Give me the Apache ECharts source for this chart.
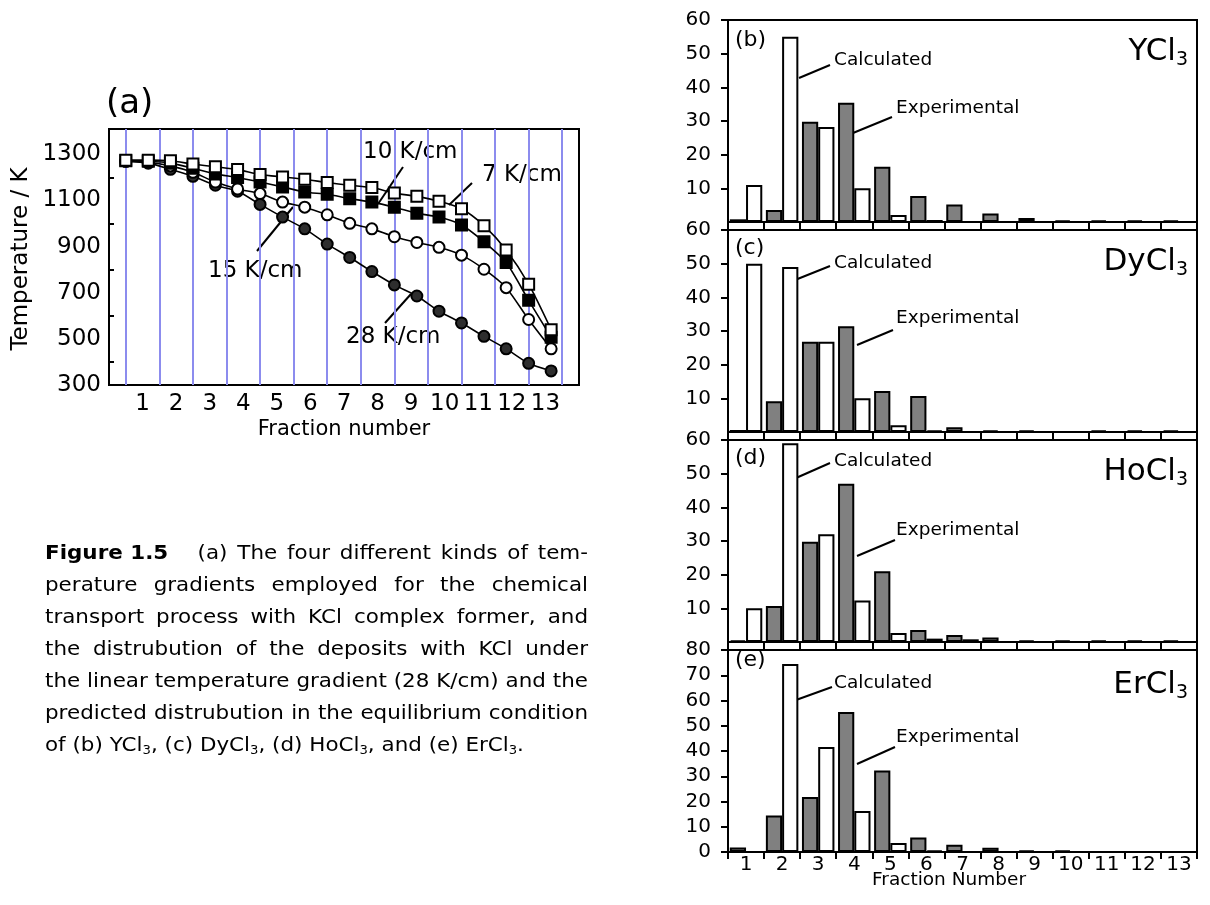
<!DOCTYPE html>
<html>
<head>
<meta charset="utf-8">
<script src="https://cdn.jsdelivr.net/npm/echarts@6/dist/echarts.min.js"></script>
<style>
  html, body { margin: 0; padding: 0; background: #ffffff; }
  #chart { width: 1210px; height: 905px; }
</style>
</head>
<body>
<div id="chart"></div>
<script>
// ---------- Panel (a): temperature along the tube for four gradients ----------
const fracPos = [0.5, 1.17, 1.83, 2.5, 3.17, 3.83, 4.5, 5.17, 5.83, 6.5, 7.17, 7.83, 8.5, 9.17, 9.83, 10.5, 11.17, 11.83, 12.5, 13.17];
const temp7K  = [1275, 1275, 1272, 1258, 1246, 1234, 1213, 1202, 1192, 1178, 1166, 1156, 1132, 1118, 1097, 1064, 991, 885, 737, 540];
const temp10K = [1272, 1270, 1262, 1240, 1215, 1200, 1180, 1159, 1137, 1127, 1108, 1093, 1071, 1045, 1028, 994, 921, 831, 667, 507];
const temp15K = [1270, 1266, 1250, 1222, 1180, 1150, 1130, 1093, 1071, 1038, 1001, 977, 943, 918, 897, 863, 802, 722, 584, 457];
const temp28K = [1270, 1262, 1235, 1205, 1166, 1140, 1083, 1028, 977, 911, 853, 792, 734, 686, 620, 569, 511, 457, 394, 361];
const fractionBounds = [0.5, 1.5, 2.5, 3.5, 4.5, 5.5, 6.5, 7.5, 8.5, 9.5, 10.5, 11.5, 12.5, 13.5];
const fractionTicks = [1, 2, 3, 4, 5, 6, 7, 8, 9, 10, 11, 12, 13];
const tempLabels = [300, 500, 700, 900, 1100, 1300];
const tempMinorTicks = [400, 600, 800, 1000, 1200];

// ---------- Panels (b)-(e): deposit distribution per fraction ----------
const fractions = ['1', '2', '3', '4', '5', '6', '7', '8', '9', '10', '11', '12', '13'];
const ycl3Exp   = [0.8, 3.6, 29.8, 35.4, 16.4, 7.7, 5.2, 2.5, 1.2, 0.5, 0.5, 0.5, 0.5];
const ycl3Calc  = [11, 55, 28.2, 10, 2.1, 0.6, null, null, null, null, null, null, null];
const dycl3Exp  = [0.6, 9.1, 26.8, 31.4, 12.2, 10.7, 1.4, 0.5, 0.5, null, 0.5, 0.5, 0.5];
const dycl3Calc = [50, 49, 26.8, 10, 2, 0.5, null, null, null, null, null, null, null];
const hocl3Exp  = [0.5, 10.7, 29.8, 47, 21, 3.6, 2.1, 1.3, 0.5, 0.5, 0.5, 0.5, 0.5];
const hocl3Calc = [10, 59, 32, 12.3, 2.7, 1, 0.8, null, null, null, null, null, null];
const ercl3Exp  = [1.8, 14.5, 21.8, 55.4, 32.3, 5.7, 2.9, 1.7, 0.6, 0.6, null, null, null];
const ercl3Calc = [null, 74.5, 41.6, 16.2, 3.6, 0.6, null, null, null, null, null, null, null];

const panelSpecs = [
  { tag: '(b)', compound: 'YCl',  exp: ycl3Exp,  calc: ycl3Calc,  max: 60 },
  { tag: '(c)', compound: 'DyCl', exp: dycl3Exp, calc: dycl3Calc, max: 60 },
  { tag: '(d)', compound: 'HoCl', exp: hocl3Exp, calc: hocl3Calc, max: 60 },
  { tag: '(e)', compound: 'ErCl', exp: ercl3Exp, calc: ercl3Calc, max: 80 }
];

const FONT = 'DejaVu Sans';
const INK = '#000000';
const GRAY = '#808080';
const GRID_BLUE = '#8c8cee';

const chart = echarts.init(document.getElementById('chart'), null, { renderer: 'canvas', width: 1210, height: 905 });

// ---------- helpers ----------
const measureCtx = document.createElement('canvas').getContext('2d');
function textWidth(str, size, weight) {
  measureCtx.font = (weight || 'normal') + ' ' + size + 'px "' + FONT + '"';
  return measureCtx.measureText(str).width;
}
function txt(x, y, text, size, extra) {
  return {
    type: 'text', x: x, y: y, silent: true,
    style: Object.assign({ text: text, fontSize: size, fontFamily: FONT, fill: INK, align: 'left', verticalAlign: 'middle' }, extra || {})
  };
}
function seg(x1, y1, x2, y2) {
  return { type: 'line', silent: true, shape: { x1: x1, y1: y1, x2: x2, y2: y2 }, style: { stroke: INK, lineWidth: 2 } };
}
// spread the words of a caption line across a fixed width (glyphs widened by sx)
function justified(tokens, x0, x1, y, size, sx) {
  const widths = tokens.map(t => textWidth(t.t, size, t.bold ? 'bold' : 'normal') * sx);
  const total = widths.reduce((a, b) => a + b, 0);
  const weights = tokens.slice(1).map(t => t.w || 1);
  const wsum = weights.reduce((a, b) => a + b, 0);
  const unit = (x1 - x0 - total) / wsum;
  const out = [];
  let x = x0;
  tokens.forEach((t, i) => {
    if (i > 0) x += unit * weights[i - 1];
    const el = txt(x, y, t.t, size, { fontWeight: t.bold ? 'bold' : 'normal' });
    el.scaleX = sx;
    out.push(el);
    x += widths[i];
  });
  return out;
}
function words(line) { return line.split(' ').map(w => ({ t: w })); }
const plain = v => String(v);

// ---------- grids and axes ----------
const grids = [{ left: 109, top: 129, width: 470, height: 256, show: true, borderColor: INK, borderWidth: 2, backgroundColor: 'transparent' }];
const xAxes = [{
  gridIndex: 0, type: 'value', min: 0, max: 14,
  axisLine: { show: true, lineStyle: { color: INK, width: 2 } },
  axisTick: { show: true, inside: true, length: 5, customValues: fractionBounds, lineStyle: { color: INK, width: 2 } },
  axisLabel: { customValues: fractionTicks, fontSize: 23, fontFamily: FONT, color: INK, margin: 8, formatter: plain },
  splitLine: { show: false }
}];
const yAxes = [{
  gridIndex: 0, type: 'value', min: 300, max: 1410,
  axisLine: { show: true, lineStyle: { color: INK, width: 2 } },
  axisTick: { show: true, inside: true, length: 5, customValues: tempMinorTicks, lineStyle: { color: INK, width: 2 } },
  axisLabel: { customValues: tempLabels, fontSize: 23, fontFamily: FONT, color: INK, margin: 8, formatter: plain },
  splitLine: { show: false }
}];

function curve(name, values, symbol, fill, z) {
  return {
    type: 'line', name: name, xAxisIndex: 0, yAxisIndex: 0, z: z,
    data: fracPos.map((x, i) => [x, values[i]]),
    smooth: 0.25, symbol: symbol, symbolSize: 11, showSymbol: true,
    lineStyle: { color: INK, width: 1.6 },
    itemStyle: { color: fill, borderColor: INK, borderWidth: 2 },
    emphasis: { disabled: true }
  };
}

const series = [
  {
    // fraction boundaries as vertical guide lines
    type: 'line', xAxisIndex: 0, yAxisIndex: 0, data: [], silent: true, z: 1,
    markLine: {
      silent: true, z: 1, symbol: ['none', 'none'], label: { show: false },
      lineStyle: { color: GRID_BLUE, width: 2, type: 'solid' },
      emphasis: { disabled: true },
      data: fractionBounds.map(v => ({ xAxis: v }))
    }
  },
  curve('28 K/cm', temp28K, 'circle', '#2e2e2e', 3),
  curve('15 K/cm', temp15K, 'circle', '#ffffff', 4),
  curve('10 K/cm', temp10K, 'rect', '#000000', 5),
  curve('7 K/cm', temp7K, 'rect', '#ffffff', 6)
];

panelSpecs.forEach((p, k) => {
  const g = k + 1;
  const last = k === panelSpecs.length - 1;
  grids.push({ left: 728, top: 20 + 210 * k, width: 469, height: 202, show: true, borderColor: INK, borderWidth: 2, backgroundColor: 'transparent' });
  xAxes.push({
    gridIndex: g, type: 'category', data: fractions, boundaryGap: true,
    axisLine: { show: true, lineStyle: { color: INK, width: 2 } },
    axisTick: { show: true, inside: false, length: 7, alignWithLabel: false, lineStyle: { color: INK, width: 2 } },
    axisLabel: { show: last, fontSize: 20, fontFamily: FONT, color: INK, margin: 3, interval: 0 },
    splitLine: { show: false }
  });
  yAxes.push({
    gridIndex: g, type: 'value', min: 0, max: p.max, interval: 10,
    axisLine: { show: true, lineStyle: { color: INK, width: 2 } },
    axisTick: { show: true, inside: false, length: 7, lineStyle: { color: INK, width: 2 } },
    axisLabel: { fontSize: 20, fontFamily: FONT, color: INK, margin: 17, showMinLabel: last, showMaxLabel: true, formatter: plain },
    splitLine: { show: false }
  });
  series.push({
    type: 'bar', name: 'Experimental', xAxisIndex: g, yAxisIndex: g, data: p.exp,
    barGap: '0%', barCategoryGap: '10%',
    itemStyle: { color: GRAY, borderColor: INK, borderWidth: 2 },
    emphasis: { disabled: true }
  });
  series.push({
    type: 'bar', name: 'Calculated', xAxisIndex: g, yAxisIndex: g, data: p.calc,
    barGap: '0%', barCategoryGap: '10%',
    itemStyle: { color: '#ffffff', borderColor: INK, borderWidth: 2 },
    emphasis: { disabled: true }
  });
});

// ---------- annotations ----------
const graphics = [];
// panel (a)
graphics.push(txt(106, 104, '(a)', 34));
const yName = txt(21, 259, 'Temperature / K', 23, { align: 'center' });
yName.rotation = Math.PI / 2;
graphics.push(yName);
graphics.push(txt(344, 430, 'Fraction number', 21, { align: 'center' }));
graphics.push(txt(363, 152, '10 K/cm', 23));
graphics.push(txt(482, 175, '7 K/cm', 23));
graphics.push(txt(208, 271, '15 K/cm', 23));
graphics.push(txt(346, 337, '28 K/cm', 23));
graphics.push(seg(403, 167, 378, 204));
graphics.push(seg(472, 183, 449, 205));
graphics.push(seg(257, 251, 293, 207));
graphics.push(seg(385, 323, 411, 294));

// panels (b)-(e)
const panelText = [
  { tagY: 40,  calcY: 60,  calcLine: [799, 78, 830, 65],   expY: 108, expLine: [853, 133, 892, 117], nameY: 52 },
  { tagY: 248, calcY: 263, calcLine: [795, 280, 830, 266], expY: 318, expLine: [857, 345, 893, 330], nameY: 262 },
  { tagY: 458, calcY: 461, calcLine: [796, 478, 830, 463], expY: 530, expLine: [857, 556, 895, 540], nameY: 472 },
  { tagY: 660, calcY: 683, calcLine: [796, 700, 832, 687], expY: 737, expLine: [857, 764, 895, 747], nameY: 685 }
];
panelSpecs.forEach((p, k) => {
  const t = panelText[k];
  graphics.push(txt(735, t.tagY, p.tag, 22));
  graphics.push(txt(834, t.calcY, 'Calculated', 18.5));
  graphics.push(seg.apply(null, t.calcLine));
  graphics.push(txt(896, t.expY, 'Experimental', 18.5));
  graphics.push(seg.apply(null, t.expLine));
  graphics.push({
    type: 'text', x: 1188, y: t.nameY, silent: true,
    style: {
      text: '{a|' + p.compound + '}{s|3}', align: 'right', verticalAlign: 'middle',
      rich: {
        a: { fontSize: 31, fontFamily: FONT, fill: INK, lineHeight: 36 },
        s: { fontSize: 19, fontFamily: FONT, fill: INK, lineHeight: 13, verticalAlign: 'bottom' }
      }
    }
  });
});
graphics.push(txt(872, 880, 'Fraction Number', 18.5));

// caption
const capX0 = 45, capX1 = 588, capSize = 19.5, capSX = 1.1;
const capY = [554, 586, 618, 650, 682, 714, 746];
const line1 = [{ t: 'Figure 1.5', bold: true }].concat(words('(a) The four different kinds of tem-'));
line1[1].w = 3;
const capLines = [
  line1,
  words('perature gradients employed for the chemical'),
  words('transport process with KCl complex former, and'),
  words('the distrubution of the deposits with KCl under'),
  words('the linear temperature gradient (28 K/cm) and the'),
  words('predicted distrubution in the equilibrium condition')
];
capLines.forEach((ln, i) => { graphics.push.apply(graphics, justified(ln, capX0, capX1, capY[i], capSize, capSX)); });
const lastLine = {
  type: 'text', x: capX0, y: capY[6], silent: true, scaleX: capSX,
  style: {
    text: '{n|of (b) YCl}{s|3}{n|, (c) DyCl}{s|3}{n|, (d) HoCl}{s|3}{n|, and (e) ErCl}{s|3}{n|.}',
    align: 'left', verticalAlign: 'middle',
    rich: {
      n: { fontSize: capSize, fontFamily: FONT, fill: INK, lineHeight: 22 },
      s: { fontSize: 12, fontFamily: FONT, fill: INK, lineHeight: 10, verticalAlign: 'bottom' }
    }
  }
};
graphics.push(lastLine);

chart.setOption({
  animation: false,
  backgroundColor: '#ffffff',
  grid: grids,
  xAxis: xAxes,
  yAxis: yAxes,
  series: series,
  graphic: { elements: graphics }
});
</script>
</body>
</html>
